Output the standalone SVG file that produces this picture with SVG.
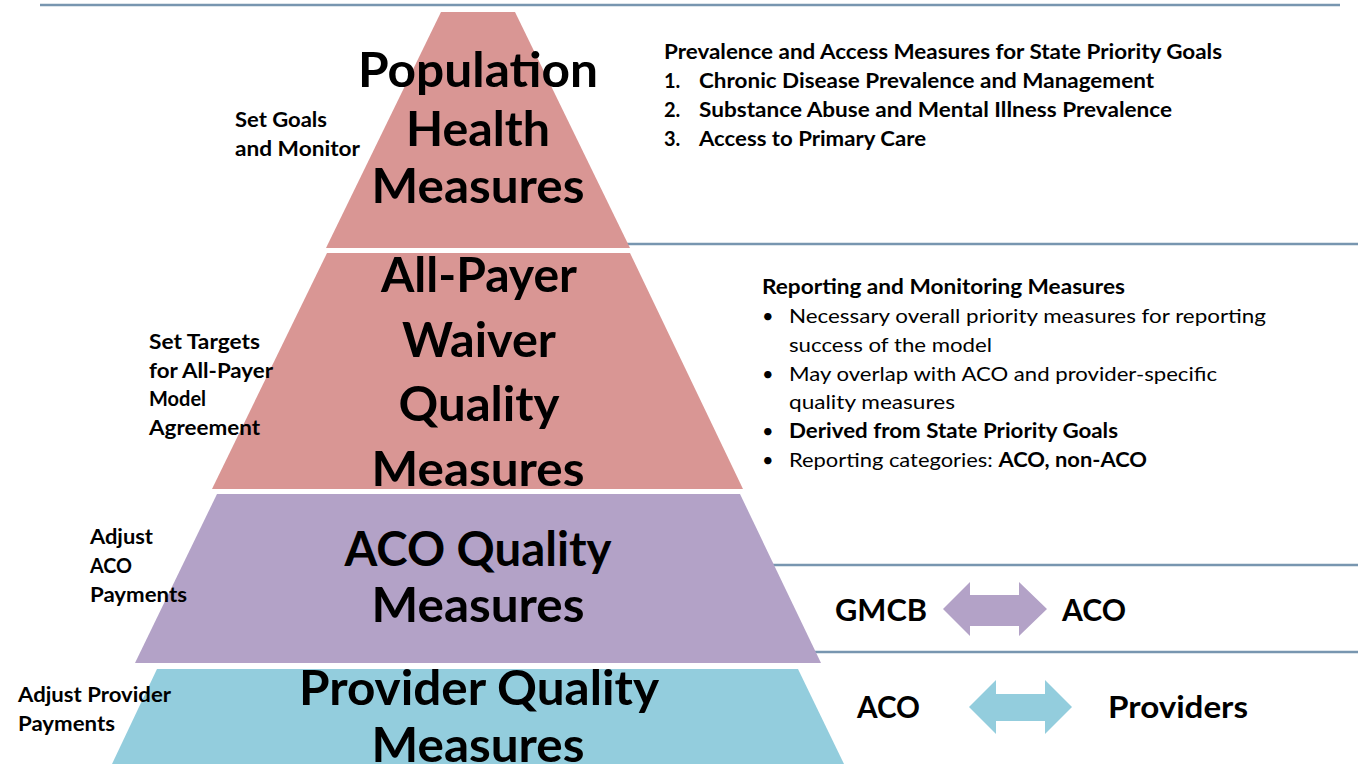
<svg xmlns="http://www.w3.org/2000/svg" width="1358" height="764" viewBox="0 0 1358 764">
<style>
.t{font-family:Lato,"Liberation Sans",sans-serif;fill:#000;}
.b{font-weight:bold;}
.big{font-family:Lato,"Liberation Sans",sans-serif;font-weight:bold;font-size:48px;text-anchor:middle;fill:#000;}
.lbl{font-size:20px;font-weight:bold;}
.rt{font-size:20px;}
.ar{font-size:30px;font-weight:bold;}
.div{stroke:#7896b0;stroke-width:2.5;fill:none;}
</style>
<rect width="1358" height="764" fill="#fff"/>
<g id="dividers">
<line class="div" x1="40" y1="5" x2="1340" y2="5"/>
<line class="div" x1="622" y1="244" x2="1358" y2="244"/>
<line class="div" x1="766" y1="565" x2="1358" y2="565"/>
<line class="div" x1="807" y1="652" x2="1358" y2="652"/>
</g>
<g id="tier-population">
<polygon points="441,12 515,12 630,248 326,248" fill="#d99694"/>
<text class="big" x="478" y="87" textLength="240" lengthAdjust="spacingAndGlyphs">Population</text>
<text class="big" x="478" y="146" textLength="144" lengthAdjust="spacingAndGlyphs">Health</text>
<text class="big" x="478" y="203" textLength="213" lengthAdjust="spacingAndGlyphs">Measures</text>
</g>
<g id="tier-allpayer">
<polygon points="327,253 630,253 743,489 212,489" fill="#d99694"/>
<text class="big" x="479" y="292" textLength="196" lengthAdjust="spacingAndGlyphs">All-Payer</text>
<text class="big" x="479" y="357" textLength="154" lengthAdjust="spacingAndGlyphs">Waiver</text>
<text class="big" x="479" y="421" textLength="161" lengthAdjust="spacingAndGlyphs">Quality</text>
<text class="big" x="478" y="486" textLength="213" lengthAdjust="spacingAndGlyphs">Measures</text>
</g>
<g id="tier-aco">
<polygon points="217,494 740,494 821,663 135,663" fill="#b3a2c7"/>
<text class="big" x="478" y="566" textLength="267" lengthAdjust="spacingAndGlyphs">ACO Quality</text>
<text class="big" x="478" y="622" textLength="213" lengthAdjust="spacingAndGlyphs">Measures</text>
</g>
<g id="tier-provider">
<polygon points="157,669 798,669 844,764 112,764" fill="#93cddd"/>
<text class="big" x="479" y="705" textLength="360" lengthAdjust="spacingAndGlyphs">Provider Quality</text>
<text class="big" x="478" y="762" textLength="213" lengthAdjust="spacingAndGlyphs">Measures</text>
</g>
<g id="label-set-goals">
<text class="t lbl" x="235" y="127" textLength="92" lengthAdjust="spacingAndGlyphs">Set Goals</text>
<text class="t lbl" x="235" y="156" textLength="125" lengthAdjust="spacingAndGlyphs">and Monitor</text>
</g>
<g id="label-set-targets">
<text class="t lbl" x="149" y="349" textLength="111" lengthAdjust="spacingAndGlyphs">Set Targets</text>
<text class="t lbl" x="149" y="378" textLength="124" lengthAdjust="spacingAndGlyphs">for All-Payer</text>
<text class="t lbl" x="149" y="406">Model</text>
<text class="t lbl" x="149" y="435" textLength="111" lengthAdjust="spacingAndGlyphs">Agreement</text>
</g>
<g id="label-adjust-aco">
<text class="t lbl" x="90" y="544" textLength="63" lengthAdjust="spacingAndGlyphs">Adjust</text>
<text class="t lbl" x="90" y="573" textLength="42" lengthAdjust="spacingAndGlyphs">ACO</text>
<text class="t lbl" x="90" y="602" textLength="97" lengthAdjust="spacingAndGlyphs">Payments</text>
</g>
<g id="label-adjust-provider">
<text class="t lbl" x="18" y="702" textLength="153" lengthAdjust="spacingAndGlyphs">Adjust Provider</text>
<text class="t lbl" x="18" y="731" textLength="97" lengthAdjust="spacingAndGlyphs">Payments</text>
</g>
<g id="prevalence-list">
<text class="t rt b" x="664" y="59" textLength="558" lengthAdjust="spacingAndGlyphs">Prevalence and Access Measures for State Priority Goals</text>
<text class="t rt b" x="664" y="88">1.</text>
<text class="t rt b" x="699" y="88" textLength="455" lengthAdjust="spacingAndGlyphs">Chronic Disease Prevalence and Management</text>
<text class="t rt b" x="664" y="117">2.</text>
<text class="t rt b" x="699" y="117" textLength="473" lengthAdjust="spacingAndGlyphs">Substance Abuse and Mental Illness Prevalence</text>
<text class="t rt b" x="664" y="146">3.</text>
<text class="t rt b" x="699" y="146" textLength="227" lengthAdjust="spacingAndGlyphs">Access to Primary Care</text>
</g>
<g id="reporting-list">
<text class="t rt b" x="762" y="294" textLength="363" lengthAdjust="spacingAndGlyphs">Reporting and Monitoring Measures</text>
<text class="t rt" x="762" y="323">•</text>
<text class="t rt" x="789" y="323" textLength="477" lengthAdjust="spacingAndGlyphs">Necessary overall priority measures for reporting</text>
<text class="t rt" x="789" y="352" textLength="203" lengthAdjust="spacingAndGlyphs">success of the model</text>
<text class="t rt" x="762" y="381">•</text>
<text class="t rt" x="789" y="381" textLength="428" lengthAdjust="spacingAndGlyphs">May overlap with ACO and provider-specific</text>
<text class="t rt" x="789" y="409" textLength="166" lengthAdjust="spacingAndGlyphs">quality measures</text>
<text class="t rt" x="762" y="438">•</text>
<text class="t rt b" x="789" y="438" textLength="329" lengthAdjust="spacingAndGlyphs">Derived from State Priority Goals</text>
<text class="t rt" x="762" y="467">•</text>
<text class="t rt" x="789" y="467" textLength="358" lengthAdjust="spacingAndGlyphs">Reporting categories: <tspan class="b">ACO, non-ACO</tspan></text>
</g>
<g id="node-gmcb"><text class="t ar" x="835" y="621" textLength="92" lengthAdjust="spacingAndGlyphs">GMCB</text></g>
<g id="node-aco-1"><text class="t ar" x="1062" y="621" textLength="64" lengthAdjust="spacingAndGlyphs">ACO</text></g>
<g id="node-aco-2"><text class="t ar" x="857" y="718" textLength="63" lengthAdjust="spacingAndGlyphs">ACO</text></g>
<g id="node-providers"><text class="t ar" x="1108" y="718" textLength="140" lengthAdjust="spacingAndGlyphs">Providers</text></g>
<g id="connectors">
<polygon points="943,609 970,582 970,595 1019,595 1019,582 1047,609 1019,636 1019,626 970,626 970,636" fill="#b3a2c7"/>
<polygon points="969,707 996,680 996,694 1045,694 1045,680 1072,707 1045,734 1045,721 996,721 996,734" fill="#93cddd"/>
</g>
</svg>
